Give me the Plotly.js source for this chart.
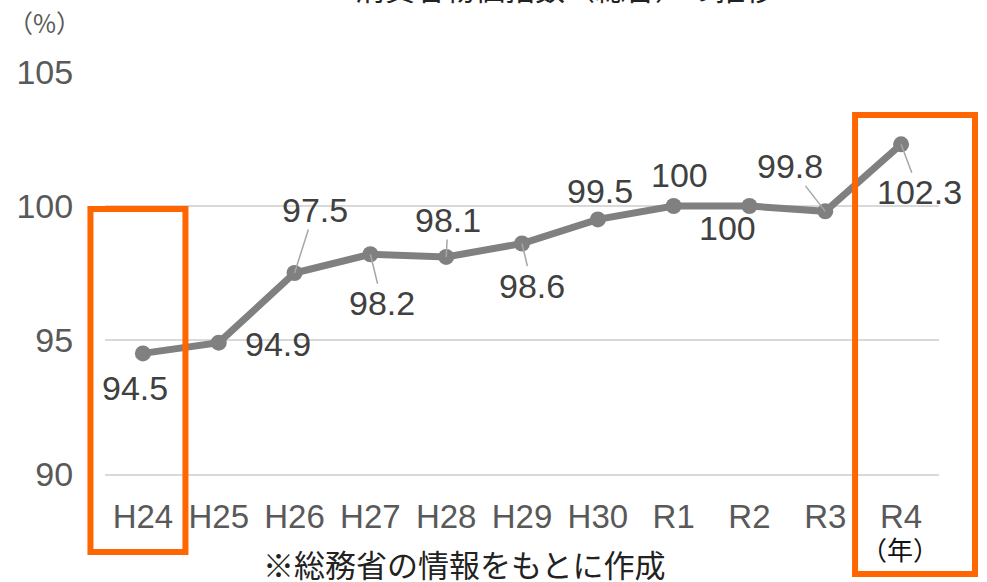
<!DOCTYPE html>
<html>
<head>
<meta charset="utf-8">
<script src="https://cdn.plot.ly/plotly-3.0.1.min.js"></script>
<style>
html,body{margin:0;padding:0;background:#fff;}
#chart{width:987px;height:582px;}
</style>
</head>
<body>
<div id="chart"></div>
<script>
// ---- data ----
const years = ["H24","H25","H26","H27","H28","H29","H30","R1","R2","R3","R4"];
const cpi = [94.5, 94.9, 97.5, 98.2, 98.1, 98.6, 99.5, 100, 100, 99.8, 102.3];
const yTicks = [90, 95, 100, 105];
const titleText = "消費者物価指数（総合）の推移";
const unitY = "（%）";
const unitX = "（年）";
const sourceNote = "※総務省の情報をもとに作成";
const highlighted = ["H24", "R4"];

// ---- label placement (pixel offsets from point: dx right, dy down) ----
const labelDx = [-8, 59, 20, 12, 2, 10, 2, 6, -22, -35, 18];
const labelDy = [35, 1, -63, 49, -37, 42, -28, -31, 22, -45, 48];
const leader  = [false, false, true, true, true, true, false, false, false, true, true];

const font = "Liberation Sans, Arial, sans-serif";
const cjk = "Noto Sans CJK JP, sans-serif";

const trace = {
  type: "scatter",
  mode: "lines+markers",
  x: years,
  y: cpi,
  line: {color: "#808080", width: 7},
  marker: {color: "#808080", size: 16},
  hoverinfo: "skip",
  cliponaxis: false
};

const annotations = cpi.map((v, i) => {
  const a = {
    x: years[i], y: v, xref: "x", yref: "y",
    text: String(v),
    font: {family: font, size: 34, color: "#404040"},
    borderpad: 0
  };
  if (leader[i]) {
    Object.assign(a, {showarrow: true, arrowhead: 0, arrowwidth: 1.5,
      arrowcolor: "#a6a6a6", ax: labelDx[i], ay: labelDy[i], standoff: 0});
  } else {
    Object.assign(a, {showarrow: false, xanchor: "center", yanchor: "middle",
      xshift: labelDx[i], yshift: -labelDy[i]});
  }
  return a;
});

const note = (x, y, yshift, text, f) => ({xref: "paper", yref: "paper", x: x, y: y,
  xanchor: "center", yanchor: "middle", yshift: yshift, text: text, showarrow: false, font: f, borderpad: 0});

annotations.push(
  note(-0.073, 1, 50, unitY, {family: cjk, size: 25, color: "#595959"}),
  note(0.953, 0, -74, unitX, {family: cjk, size: 26, color: "#111"}),
  note(0.43, 0, -89, sourceNote, {family: cjk, size: 31, color: "#222"}),
  {xref: "paper", yref: "paper", x: 0.552, y: 1, xanchor: "center", yanchor: "bottom", yshift: 61,
   text: titleText, showarrow: false, font: {family: cjk, size: 30, color: "#222"}}
);

const iA = years.indexOf(highlighted[0]);
const iB = years.indexOf(highlighted[1]);
const n = years.length;
const px = (k) => (k + 0.5) / n;   // category centre in paper units
const orange = {color: "#ff6600", width: 6};
const shapes = [
  {type: "rect", xref: "paper", yref: "paper",
   x0: px(iA) - 0.0629, x1: px(iA) + 0.0510, y0: -0.194, y1: 0.659, line: orange},
  {type: "rect", xref: "paper", yref: "paper",
   x0: px(iB) - 0.0552, x1: px(iB) + 0.0886, y0: -0.249, y1: 0.893, line: orange}
];

const layout = {
  width: 987, height: 582,
  margin: {l: 105, r: 48, t: 72, b: 108},
  paper_bgcolor: "#fff", plot_bgcolor: "#fff",
  showlegend: false,
  xaxis: {
    type: "category", range: [-0.5, n - 0.5],
    showgrid: false, zeroline: false,
    showline: true, linecolor: "#d9d9d9", linewidth: 1.5,
    ticks: "outside", ticklen: 13, tickcolor: "rgba(0,0,0,0)",
    tickfont: {family: font, size: 33, color: "#595959"},
    fixedrange: true
  },
  yaxis: {
    range: [90, 105], tickvals: yTicks,
    showgrid: true, gridcolor: "#d9d9d9", gridwidth: 1.5,
    zeroline: false, showline: false,
    ticks: "outside", ticklen: 24, tickcolor: "rgba(0,0,0,0)",
    tickfont: {family: font, size: 34, color: "#595959"},
    fixedrange: true
  },
  annotations: annotations,
  shapes: shapes
};

Plotly.newPlot("chart", [trace], layout, {staticPlot: true});
</script>
</body>
</html>
